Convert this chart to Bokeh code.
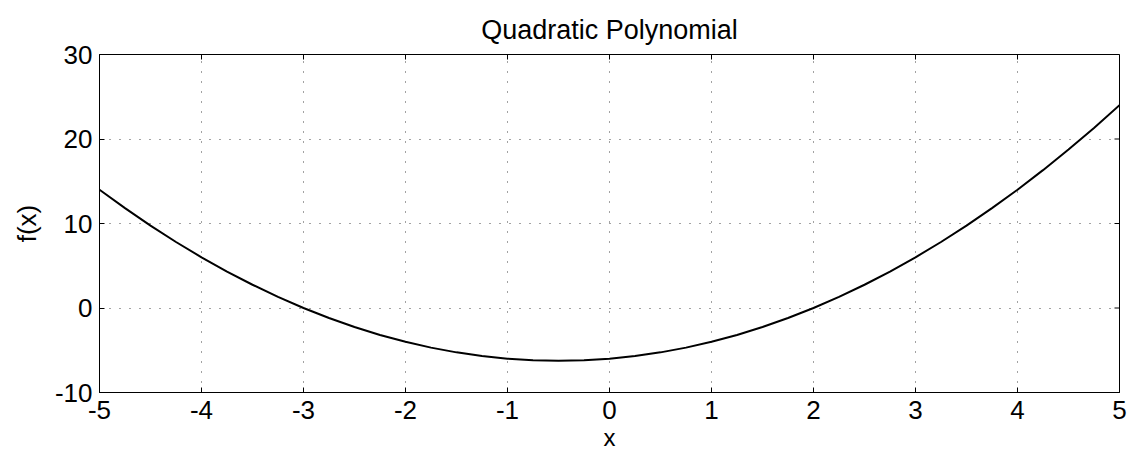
import math

from bokeh.plotting import figure
from bokeh.models import FixedTicker, Range1d, ColumnDataSource
from bokeh.embed import file_html
from bokeh.resources import INLINE

# Samples of f(x) = x^2 + x - 6 on [-5, 5]
x_vals = [-5.0, -4.75, -4.5, -4.25, -4.0, -3.75, -3.5, -3.25, -3.0, -2.75,
          -2.5, -2.25, -2.0, -1.75, -1.5, -1.25, -1.0, -0.75, -0.5, -0.25,
          0.0, 0.25, 0.5, 0.75, 1.0, 1.25, 1.5, 1.75, 2.0, 2.25,
          2.5, 2.75, 3.0, 3.25, 3.5, 3.75, 4.0, 4.25, 4.5, 4.75, 5.0]
f_vals = [14.0, 11.8125, 9.75, 7.8125, 6.0, 4.3125, 2.75, 1.3125, 0.0, -1.1875,
          -2.25, -3.1875, -4.0, -4.6875, -5.25, -5.6875, -6.0, -6.1875, -6.25, -6.1875,
          -6.0, -5.6875, -5.25, -4.6875, -4.0, -3.1875, -2.25, -1.1875, 0.0, 1.3125,
          2.75, 4.3125, 6.0, 7.8125, 9.75, 11.8125, 14.0, 16.3125, 18.75, 21.3125, 24.0]

x_ticks = [-5, -4, -3, -2, -1, 0, 1, 2, 3, 4, 5]
y_ticks = [-10, 0, 10, 20, 30]

FONT = "Liberation Sans"
SIZE = "26px"

p = figure(
    width=1132, height=456,
    frame_width=1020, frame_height=338,
    min_border_left=99, min_border_right=13,
    min_border_top=54, min_border_bottom=64,
    x_range=Range1d(x_ticks[0], x_ticks[-1]),
    y_range=Range1d(y_ticks[0], y_ticks[-1]),
    output_backend="svg", toolbar_location=None,
    title="Quadratic Polynomial",
)
p.title.align = "center"
p.title.text_font = FONT
p.title.text_font_size = "27px"
p.title.text_font_style = "normal"
p.title.text_color = "black"
p.title.offset = 0
p.title.standoff = 19

p.outline_line_color = "black"
p.outline_line_width = 1
p.background_fill_color = "white"
p.border_fill_color = "white"

p.xaxis.ticker = FixedTicker(ticks=x_ticks)
p.yaxis.ticker = FixedTicker(ticks=y_ticks)
# plain hyphen-minus in the tick labels
p.xaxis.major_label_overrides = {t: str(t) for t in x_ticks}
p.yaxis.major_label_overrides = {t: str(t) for t in y_ticks}

for ax in p.axis:
    ax.major_tick_in = 5
    ax.major_tick_out = 0
    ax.minor_tick_line_color = None
    ax.axis_line_color = "black"
    ax.major_tick_line_color = "black"
    ax.major_label_text_font = FONT
    ax.major_label_text_font_size = SIZE
    ax.major_label_text_color = "black"
    ax.axis_label_text_font = FONT
    ax.axis_label_text_font_size = SIZE
    ax.axis_label_text_font_style = "normal"
    ax.axis_label_text_color = "black"

p.xaxis.axis_label = "x"
p.xaxis.axis_label_text_font_size = "24px"
p.xaxis.major_label_standoff = 8
p.xaxis.axis_label_standoff = 2

p.yaxis.axis_label = "f(x)"
p.yaxis.major_label_standoff = 7
p.yaxis.axis_label_standoff = 10

for g in p.grid:
    g.grid_line_color = "#444444"
    g.grid_line_dash = "1 9"
    g.grid_line_width = 1

# inward ticks along the top and right edges of the box
p.ray(x=x_ticks, y=[y_ticks[-1]] * len(x_ticks), length=5, length_units="screen",
      angle=-math.pi / 2, line_color="black", line_width=1)
p.ray(x=[x_ticks[-1]] * len(y_ticks), y=y_ticks, length=5, length_units="screen",
      angle=math.pi, line_color="black", line_width=1)

src = ColumnDataSource(dict(x=x_vals, y=f_vals))
p.line("x", "y", source=src, line_color="black", line_width=2)

open("out.html", "w").write(file_html(p, INLINE))
